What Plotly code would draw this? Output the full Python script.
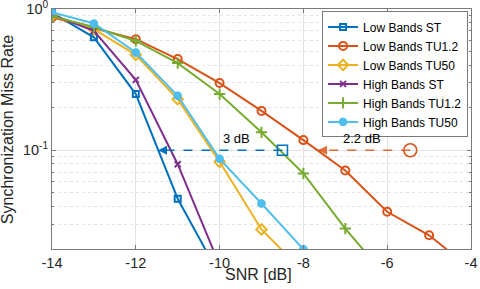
import math
import plotly.graph_objects as go

snr = [-14, -13, -12, -11, -10, -9, -8, -7, -6, -5, -4]

low_st = [0.94, 0.63, 0.25, 0.0454, 0.013]
low_tu12 = [0.875, 0.735, 0.611, 0.442, 0.299, 0.19, 0.118, 0.072, 0.0367, 0.025, 0.0145]
low_tu50 = [0.90, 0.72, 0.474, 0.23, 0.0828, 0.0275, 0.0138]
high_st = [0.91, 0.70, 0.315, 0.0797, 0.0154]
high_tu12 = [0.89, 0.746, 0.594, 0.414, 0.25, 0.134, 0.0685, 0.0279, 0.0125]
high_tu50 = [0.95, 0.79, 0.492, 0.243, 0.087, 0.042, 0.0199]

names = ["Low Bands ST", "Low Bands TU1.2", "Low Bands TU50",
         "High Bands ST", "High Bands TU1.2", "High Bands TU50"]
series = [low_st, low_tu12, low_tu50, high_st, high_tu12, high_tu50]
colors = ["#0072BD", "#D95319", "#EDB120", "#7E2F8E", "#77AC30", "#4DBEEE"]
symbols = ["square-open", "circle-open", "diamond-open", "x-thin-open",
           "cross-thin-open", "asterisk-open"]
msizes = [6, 8, 8, 6, 8, 7]
mwidths = [2, 2, 2, 2, 2, 3]

# gap annotations (SNR start, SNR end, miss rate)
gap_blue_x = [-8.5, -11.47]
gap_orange_x = [-5.45, -7.65]
gap_y = 0.1
gap_labels = ["3 dB", "2.2 dB"]
gap_label_x = [-9.6, -6.59]
gap_label_y = 0.122

x_ticks = [-14, -12, -10, -8, -6, -4]
y_ticks = [0.1, 1]
y_ticktext = ["10<sup>-1</sup>", "10<sup>0</sup>"]
y_minor = [0.02, 0.03, 0.04, 0.05, 0.06, 0.07, 0.08, 0.09,
           0.2, 0.3, 0.4, 0.5, 0.6, 0.7, 0.8, 0.9]

fig = go.Figure()
for name, vals, c, s, ms, mw in zip(names, series, colors, symbols, msizes, mwidths):
    fig.add_trace(go.Scatter(
        x=snr[:len(vals)], y=vals, name=name, mode="lines+markers",
        line=dict(color=c, width=2),
        marker=dict(symbol=s, size=ms, color=c, line=dict(color=c, width=mw)),
    ))

for gx, c in [(gap_blue_x, "#0072BD"), (gap_orange_x, "rgba(217,83,25,0.85)")]:
    fig.add_trace(go.Scatter(
        x=gx, y=[gap_y, gap_y], mode="lines", showlegend=False,
        line=dict(color=c, width=1.6, dash="dash"), hoverinfo="skip"))
    fig.add_trace(go.Scatter(
        x=[gx[1]], y=[gap_y], mode="markers", showlegend=False,
        marker=dict(symbol="arrow-left", size=9, color=c), hoverinfo="skip"))

fig.add_trace(go.Scatter(
    x=[gap_blue_x[0]], y=[gap_y], mode="markers", showlegend=False,
    marker=dict(symbol="square-open", size=10, color="#0072BD",
                line=dict(color="#0072BD", width=1.6))))
fig.add_trace(go.Scatter(
    x=[gap_orange_x[0]], y=[gap_y], mode="markers", showlegend=False,
    marker=dict(symbol="circle-open", size=13, color="#D95319",
                line=dict(color="#D95319", width=1.6))))

for t, lx in zip(gap_labels, gap_label_x):
    fig.add_annotation(x=lx, y=math.log10(gap_label_y), text=t, showarrow=False,
                       font=dict(size=13, color="#000"))

# axis titles
fig.add_annotation(xref="paper", yref="paper", x=0.494, y=-0.106, text="SNR [dB]",
                   showarrow=False, yanchor="middle",
                   font=dict(size=16, color="#262626"))
fig.add_annotation(xref="paper", yref="paper", x=-0.107, y=0.5,
                   text="Synchronization Miss Rate", textangle=-90,
                   showarrow=False, xanchor="center",
                   font=dict(size=16, color="#262626"))

axis_common = dict(
    showline=True, linecolor="#7a7a7a", linewidth=1, mirror="ticks",
    ticks="inside", ticklen=4, tickcolor="#7a7a7a",
    showgrid=True, gridcolor="#e3e3e3", gridwidth=1, zeroline=False,
    tickfont=dict(size=14.5, color="#262626"),
    ticklabeloverflow="allow", automargin=False,
)

fig.update_xaxes(
    range=[-14, -4], tickvals=x_ticks, ticktext=[str(v) for v in x_ticks],
    ticklabelstandoff=1,
    **axis_common)
fig.update_yaxes(
    type="log", range=[math.log10(0.02), 0],
    tickvals=y_ticks, ticktext=y_ticktext,
    minor=dict(tickmode="array", tickvals=y_minor, ticks="inside", ticklen=2,
               tickcolor="#7a7a7a", showgrid=True, gridcolor="#e3e3e3", griddash="dot"),
    **axis_common)

fig.update_layout(
    width=480, height=289,
    margin=dict(l=52, r=9, t=9, b=40, autoexpand=False),
    paper_bgcolor="white", plot_bgcolor="white",
    font=dict(family="Liberation Sans, Arial, sans-serif", color="#262626"),
    legend=dict(x=0.993, y=0.99, xanchor="right", yanchor="top",
                bgcolor="white", bordercolor="#7a7a7a", borderwidth=1,
                font=dict(size=12, color="#000"), tracegroupgap=0),
    showlegend=True,
)

fig.write_html("out.html", config={"displayModeBar": False},
               post_script="document.body.style.margin='0';document.body.style.overflow='hidden';")
